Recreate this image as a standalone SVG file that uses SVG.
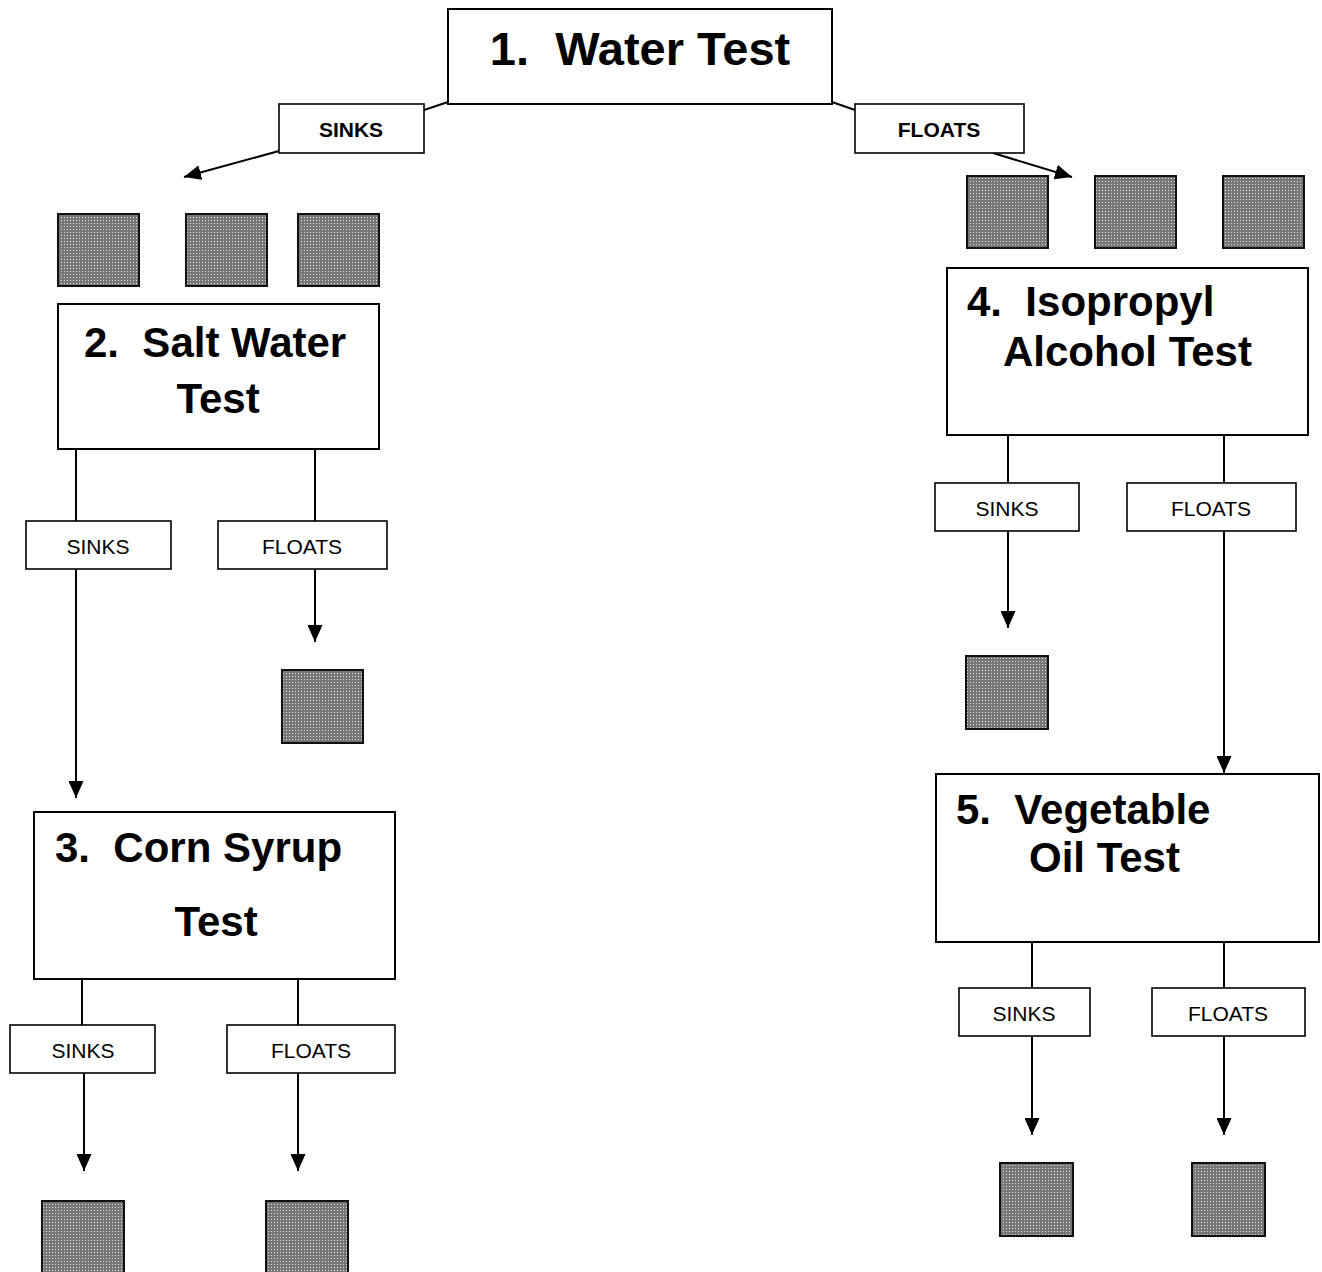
<svg xmlns="http://www.w3.org/2000/svg" width="1322" height="1272" viewBox="0 0 1322 1272">
<style>
.box{fill:#fff;stroke:#000;stroke-width:2}
.lbl{fill:#fff;stroke:#000;stroke-width:1.6}
.sq{fill:url(#dots);stroke:#111;stroke-width:2}
.t{font-family:"Liberation Sans",Arial,sans-serif;font-weight:bold;font-size:42px;fill:#000;white-space:pre}
.lb{font-family:"Liberation Sans",Arial,sans-serif;font-size:21px;fill:#000;text-anchor:middle}
.lbb{font-family:"Liberation Sans",Arial,sans-serif;font-size:21px;font-weight:bold;fill:#000;text-anchor:middle}
.ln{fill:none;stroke:#000;stroke-width:2}
.ar{fill:none;stroke:#000;stroke-width:2;marker-end:url(#ah)}
</style>
<defs>
<pattern id="dots" width="3" height="3" patternUnits="userSpaceOnUse">
<rect width="3" height="3" fill="#777"/>
<rect x="1" y="1" width="1" height="1" fill="#e0e0e0"/>
</pattern>
<marker id="ah" markerWidth="17" markerHeight="15" refX="17" refY="7.5" orient="auto" markerUnits="userSpaceOnUse">
<path d="M0,0 L17,7.5 L0,15 Z" fill="#000"/>
</marker>
</defs>
<g id="connectors">
<line class="ln" x1="448" y1="102" x2="424" y2="110"/>
<line class="ar" x1="279" y1="151" x2="184" y2="177"/>
<line class="ln" x1="832" y1="102" x2="855" y2="110"/>
<line class="ar" x1="993" y1="153" x2="1072" y2="177"/>
<line class="ln" x1="76" y1="449" x2="76" y2="521"/>
<line class="ar" x1="76" y1="569" x2="76" y2="798"/>
<line class="ln" x1="315" y1="449" x2="315" y2="521"/>
<line class="ar" x1="315" y1="569" x2="315" y2="642"/>
<line class="ln" x1="82" y1="979" x2="82" y2="1025"/>
<line class="ar" x1="84" y1="1073" x2="84" y2="1171"/>
<line class="ln" x1="298" y1="979" x2="298" y2="1025"/>
<line class="ar" x1="298" y1="1073" x2="298" y2="1171"/>
<line class="ln" x1="1008" y1="435" x2="1008" y2="483"/>
<line class="ar" x1="1008" y1="531" x2="1008" y2="628"/>
<line class="ln" x1="1224" y1="435" x2="1224" y2="483"/>
<line class="ar" x1="1224" y1="531" x2="1224" y2="773"/>
<line class="ln" x1="1032" y1="942" x2="1032" y2="988"/>
<line class="ar" x1="1032" y1="1036" x2="1032" y2="1135"/>
<line class="ln" x1="1224" y1="942" x2="1224" y2="988"/>
<line class="ar" x1="1224" y1="1036" x2="1224" y2="1135"/>
</g>
<g id="n1"><rect class="box" x="448" y="9" width="384" height="95"/><text class="t" x="640" y="65" text-anchor="middle" style="font-size:47px">1.  Water Test</text></g>
<g id="l1s"><rect class="lbl" x="279" y="104" width="145" height="49"/><text class="lbb" x="351" y="137">SINKS</text></g>
<g id="l1f"><rect class="lbl" x="855" y="104" width="169" height="49"/><text class="lbb" x="939" y="137">FLOATS</text></g>
<g id="sqL"><rect class="sq" x="58" y="214" width="81" height="72"/><rect class="sq" x="186" y="214" width="81" height="72"/><rect class="sq" x="298" y="214" width="81" height="72"/></g>
<g id="sqR"><rect class="sq" x="967" y="176" width="81" height="72"/><rect class="sq" x="1095" y="176" width="81" height="72"/><rect class="sq" x="1223" y="176" width="81" height="72"/></g>
<g id="n2"><rect class="box" x="58" y="304" width="321" height="145"/><text class="t" x="84" y="357">2.  Salt Water</text><text class="t" x="218" y="413" text-anchor="middle">Test</text></g>
<g id="l2s"><rect class="lbl" x="26" y="521" width="145" height="48"/><text class="lb" x="98" y="554">SINKS</text></g>
<g id="l2f"><rect class="lbl" x="218" y="521" width="169" height="48"/><text class="lb" x="302" y="554">FLOATS</text></g>
<g id="sq2f"><rect class="sq" x="282" y="670" width="81" height="73"/></g>
<g id="n3"><rect class="box" x="34" y="812" width="361" height="167"/><text class="t" x="55" y="862">3.  Corn Syrup</text><text class="t" x="216" y="936" text-anchor="middle">Test</text></g>
<g id="l3s"><rect class="lbl" x="10" y="1025" width="145" height="48"/><text class="lb" x="83" y="1058">SINKS</text></g>
<g id="l3f"><rect class="lbl" x="227" y="1025" width="168" height="48"/><text class="lb" x="311" y="1058">FLOATS</text></g>
<g id="sq3"><rect class="sq" x="42" y="1201" width="82" height="80"/><rect class="sq" x="266" y="1201" width="82" height="80"/></g>
<g id="n4"><rect class="box" x="947" y="268" width="361" height="167"/><text class="t" x="967" y="316">4.  Isopropyl</text><text class="t" x="1003" y="366">Alcohol Test</text></g>
<g id="l4s"><rect class="lbl" x="935" y="483" width="144" height="48"/><text class="lb" x="1007" y="516">SINKS</text></g>
<g id="l4f"><rect class="lbl" x="1127" y="483" width="169" height="48"/><text class="lb" x="1211" y="516">FLOATS</text></g>
<g id="sq4s"><rect class="sq" x="966" y="656" width="82" height="73"/></g>
<g id="n5"><rect class="box" x="936" y="774" width="383" height="168"/><text class="t" x="956" y="824">5.  Vegetable</text><text class="t" x="1029" y="872">Oil Test</text></g>
<g id="l5s"><rect class="lbl" x="959" y="988" width="131" height="48"/><text class="lb" x="1024" y="1021">SINKS</text></g>
<g id="l5f"><rect class="lbl" x="1152" y="988" width="153" height="48"/><text class="lb" x="1228" y="1021">FLOATS</text></g>
<g id="sq5"><rect class="sq" x="1000" y="1163" width="73" height="73"/><rect class="sq" x="1192" y="1163" width="73" height="73"/></g>
</svg>
